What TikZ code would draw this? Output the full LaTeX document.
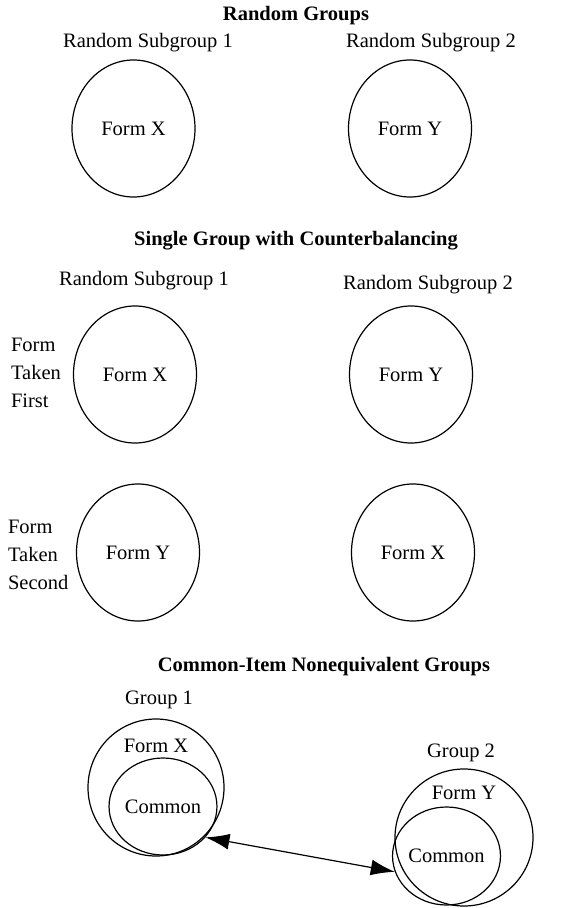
\documentclass[tikz,border=0pt]{standalone}
\usepackage{fontspec}
\setmainfont{Liberation Serif}
\usetikzlibrary{shapes.geometric,arrows.meta}
\newcommand\figfont{\fontsize{10.25pt}{14pt}\selectfont}
\tikzstyle{group}=[ellipse,draw,line width=0.6pt,minimum width=61.5pt,minimum height=68.5pt,inner sep=0pt]
\tikzstyle{ring}=[ellipse,draw,line width=0.6pt,inner sep=0pt]
\tikzstyle{heading}=[font=\figfont\bfseries]
\tikzstyle{side} = [align=left,anchor=west]
\tikzstyle{link} = [draw,line width=0.6pt,{Latex[length=12pt,width=8pt]}-{Latex[length=12pt,width=8pt]}]

\begin{document}
\begin{tikzpicture}[x=0.5pt,y=-0.5pt,font=\figfont]
\useasboundingbox (0,0) rectangle (581,908);

    % Random Groups
    \node[heading] (hrand) at (296,16) {Random Groups};
    \node (suba1) at (148,43) {Random Subgroup 1};
    \node (suba2) at (431,43) {Random Subgroup 2};
    \foreach \pos/ \name/ \form in {{(133.5,128.5)/ra1/X},{(410,128.5)/ra2/Y}}
        \node[group] (\name) at \pos {Form \form};

    % Single Group with Counterbalancing
    \node[heading] (hsingle) at (296,241) {Single Group with Counterbalancing};
    \node (subb1) at (144,281) {Random Subgroup 1};
    \node (subb2) at (428,285) {Random Subgroup 2};
    \foreach \pos/ \name/ \form in {{(135,374.5)/sf1/X},{(411,374.5)/sf2/Y},{(138,552.5)/ss1/Y},{(413,552.5)/ss2/X}}
        \node[group] (\name) at \pos {Form \form};
    \node[side] (first) at (4,373) {Form\\Taken\\First};
    \node[side] (second) at (1,555) {Form\\Taken\\Second};

    % Common-Item Nonequivalent Groups
    \node[heading] (hcommon) at (324,667) {Common-Item Nonequivalent Groups};
    \node (grp1) at (159,700) {Group 1};
    \node (grp2) at (461,753) {Group 2};
    \node[ring,minimum width=68pt,minimum height=68.5pt] (big1) at (156,787.5) {};
    \node[ring,minimum width=69pt,minimum height=68.5pt] (big2) at (464,837.5) {};
    \node (fx) at (156,746) {Form X};
    \node (fy) at (464,793) {Form Y};
    \node[ring,minimum width=47pt,minimum height=48.5pt] (cm1) at (163,806.5) {Common};
    \node[ring,minimum width=46.5pt,minimum height=49pt] (cm2) at (446.5,856) {Common};

    \path[link] (cm1.-36) -- (cm2.197);

\end{tikzpicture}
\end{document}
